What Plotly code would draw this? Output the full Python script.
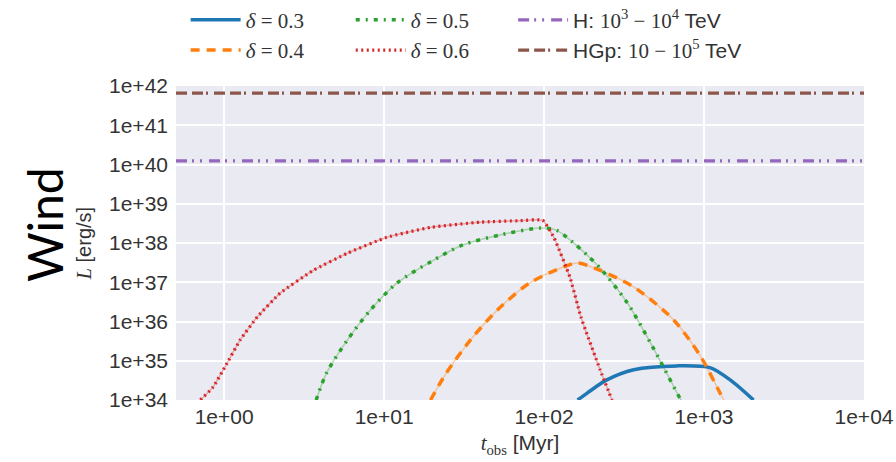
import plotly.graph_objects as go

# ---------------- data ----------------
t_03 = [162, 186, 245, 363, 676, 1100, 1510, 2040]
L_03 = [1e34, 1.5e34, 3.2e34, 5.9e34, 7.4e34, 6.6e34, 2.9e34, 1e34]

t_04 = [19.5, 24.5, 34.7, 51, 81, 132, 162, 224, 363, 645, 955, 1260, 1330]
L_04 = [1e34, 4.9e34, 3.4e35, 1.95e36, 9.5e36, 2.45e37, 3.1e37, 2.0e37, 7.6e36, 1.1e36, 1.26e35, 1.5e34, 1e34]

t_05 = [3.76, 4.37, 5.9, 8.2, 12.0, 19.5, 31, 53, 95, 120, 151, 186, 224, 331, 479, 708, 720]
L_05 = [1e34, 4.9e34, 3.4e35, 1.95e36, 9.5e36, 3.3e37, 8.9e37, 1.6e38, 2.4e38, 2.1e38, 1.05e38, 4.9e37, 2.3e37, 3.0e36, 2.2e35, 1.1e34, 1e34]

t_06 = [0.71, 0.85, 1.01, 1.26, 1.61, 2.24, 3.6, 5.9, 10.4, 19.5, 40, 70, 98, 115, 145, 170, 224, 266]
L_06 = [1e34, 2.1e34, 6.9e34, 3.4e35, 1.3e36, 5.3e36, 2.0e37, 5.5e37, 1.4e38, 2.5e38, 3.4e38, 3.7e38, 3.8e38, 1.4e38, 1.35e37, 1.3e36, 5.9e34, 1e34]

t_span = [0.5, 1e4]
L_H = 1.23e40
L_HGp = 6.6e41

x_tickvals = [1, 10, 100, 1000, 10000]
x_ticktext = ["1e+00", "1e+01", "1e+02", "1e+03", "1e+04"]
y_tickvals = [1e34, 1e35, 1e36, 1e37, 1e38, 1e39, 1e40, 1e41, 1e42]
y_ticktext = ["1e+34", "1e+35", "1e+36", "1e+37", "1e+38", "1e+39", "1e+40", "1e+41", "1e+42"]

BLUE, ORANGE, GREEN, RED, PURPLE, BROWN = "#1f77b4", "#ff7f0e", "#2ca02c", "#d62728", "#9467bd", "#8c564b"
SERIF = "Liberation Serif"
SANS = "Liberation Sans"
TXT = "#333333"

def lab(d):
    return f'<span style="font-family:{SERIF}"><i>δ</i> = {d}</span>'

fig = go.Figure()

# faint underlay lines
for t, L, c in [(t_04, L_04, ORANGE), (t_05, L_05, GREEN), (t_06, L_06, RED)]:
    fig.add_trace(go.Scatter(x=t, y=L, mode="lines", showlegend=False, hoverinfo="skip",
                             line=dict(color=c, width=1.5, shape="spline", smoothing=0.8 if c != RED else 0.4),
                             opacity=0.35))

fig.add_trace(go.Scatter(x=t_03, y=L_03, mode="lines", name=lab("0.3"), legend="legend",
                         legendgroup="a", line=dict(color=BLUE, width=3.5, shape="spline", smoothing=0.8)))
fig.add_trace(go.Scatter(x=t_04, y=L_04, mode="lines", name=lab("0.4"), legend="legend",
                         legendgroup="b", line=dict(color=ORANGE, width=3.5, dash="9px,7px", shape="spline", smoothing=0.8)))
fig.add_trace(go.Scatter(x=t_05, y=L_05, mode="lines", name=lab("0.5"), legend="legend2",
                         legendgroup="c", line=dict(color=GREEN, width=3.5, dash="4px,6px,2px,6px", shape="spline", smoothing=0.8)))
fig.add_trace(go.Scatter(x=t_06, y=L_06, mode="lines", name=lab("0.6"), legend="legend2",
                         legendgroup="d", line=dict(color=RED, width=3.2, dash="2px,3.5px", shape="spline", smoothing=0.4)))
fig.add_trace(go.Scatter(x=t_span, y=[L_H, L_H], mode="lines", legend="legend3", legendgroup="e",
                         name=f'H: <span style="font-family:{SERIF}">10<sup>3</sup> − 10<sup>4</sup></span> TeV',
                         line=dict(color=PURPLE, width=3.2, dash="11px,5px,2px,6px,2px,7px")))
fig.add_trace(go.Scatter(x=t_span, y=[L_HGp, L_HGp], mode="lines", legend="legend3", legendgroup="f",
                         name=f'HGp: <span style="font-family:{SERIF}">10 − 10<sup>5</sup></span> TeV',
                         line=dict(color=BROWN, width=3.2, dash="11px,5px,11px,3px,2px,6px")))

leg_common = dict(orientation="v", yanchor="top", xanchor="left", y=1.275, bgcolor="rgba(0,0,0,0)",
                  font=dict(family=SANS, size=21, color=TXT), tracegroupgap=0, itemwidth=50)

fig.update_layout(
    width=896, height=462,
    margin=dict(l=176, r=32, t=86, b=62, autoexpand=False),
    paper_bgcolor="white", plot_bgcolor="#EAEAF2",
    font=dict(family=SANS, color=TXT),
    legend=dict(x=0.014, **leg_common),
    legend2=dict(x=0.254, **leg_common),
    legend3=dict(x=0.49, **leg_common),
    annotations=[dict(text="Wind", xref="paper", yref="paper", x=-0.192, y=0.56, textangle=-90,
                      xanchor="center", yanchor="middle",
                      showarrow=False, font=dict(family="Lato", size=48, color="black"))],
)

fig.update_xaxes(type="log", range=[-0.301, 4], tickvals=x_tickvals, ticktext=x_ticktext,
                 showgrid=True, gridcolor="white", gridwidth=1.5, zeroline=False, showline=False, ticks="",
                 ticklabelstandoff=2,
                 tickfont=dict(family=SANS, size=21, color=TXT),
                 title=dict(text=f'<span style="font-family:{SERIF}"><i>t</i><sub>obs</sub></span> [Myr]',
                            font=dict(family=SANS, size=21, color=TXT), standoff=8))
fig.update_yaxes(type="log", range=[34, 42], tickvals=y_tickvals, ticktext=y_ticktext,
                 showgrid=True, gridcolor="white", gridwidth=1.5, zeroline=False, showline=False, ticks="",
                 ticklabelstandoff=7,
                 tickfont=dict(family=SANS, size=21, color=TXT),
                 title=dict(text=f'<span style="font-family:{SERIF}"><i>L</i></span> [erg/s]',
                            font=dict(family=SANS, size=20, color=TXT), standoff=12))

fig.write_html("out.html")
